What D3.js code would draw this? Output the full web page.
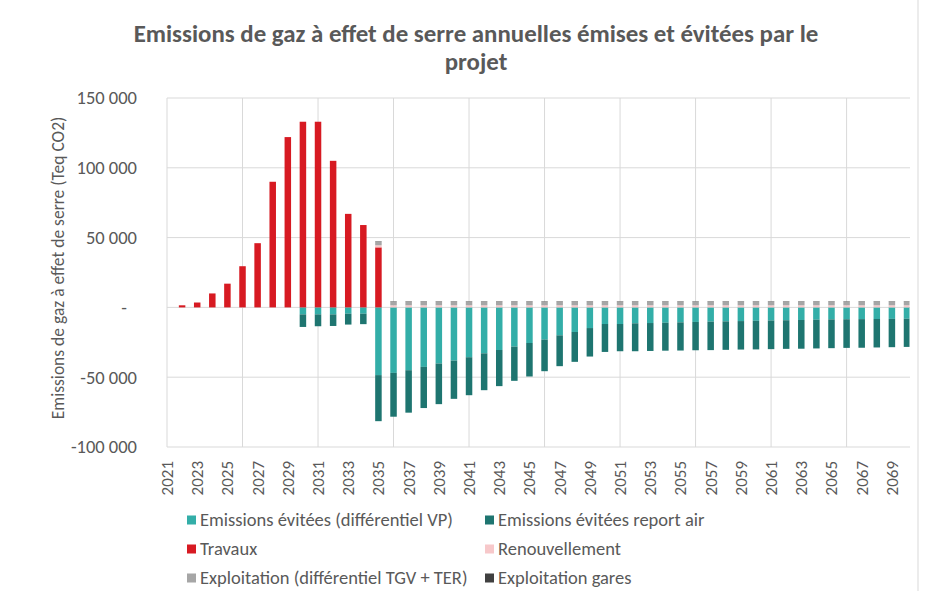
<!DOCTYPE html>
<html>
<head>
<meta charset="utf-8">
<script src="https://cdn.jsdelivr.net/npm/d3@7"></script>
<style>
  body { margin: 0; background: #fff; }
  text { font-family: Carlito, Calibri, Lato, sans-serif; fill: #595959; }
</style>
</head>
<body>
<script>
// Categories (years)
var years = [2021, 2022, 2023, 2024, 2025, 2026, 2027, 2028, 2029, 2030,
  2031, 2032, 2033, 2034, 2035, 2036, 2037, 2038, 2039, 2040,
  2041, 2042, 2043, 2044, 2045, 2046, 2047, 2048, 2049, 2050,
  2051, 2052, 2053, 2054, 2055, 2056, 2057, 2058, 2059, 2060,
  2061, 2062, 2063, 2064, 2065, 2066, 2067, 2068, 2069, 2070];

// Series values (Teq CO2), one per year
var evitVP = [0, 0, 0, 0, 0, 0, 0, 0, 0, -5000,
  -5000, -5000, -4500, -4500, -48500, -46900, -45000, -42600, -40200, -38100,
  -35700, -32900, -30500, -28100, -25500, -23100, -20000, -17600, -14800, -11900,
  -11900, -11400, -11200, -11000, -10700, -10400, -10200, -10000, -9800, -9600,
  -9400, -9200, -9000, -8800, -8600, -8500, -8400, -8300, -8200, -8100];
var evitAir = [0, 0, 0, 0, 0, 0, 0, 0, 0, -9000,
  -8500, -8300, -7800, -7500, -33000, -31400, -30400, -29500, -29100, -27400,
  -27200, -26400, -25900, -24500, -24000, -22600, -22100, -21400, -20400, -20000,
  -19500, -20000, -20000, -20000, -20200, -20300, -20400, -20400, -20400, -20500,
  -20500, -20500, -20600, -20600, -20600, -20500, -20500, -20400, -20300, -20200];
var travaux = [0, 1500, 3500, 10000, 17000, 29500, 46000, 90000, 122000, 133000,
  133000, 105000, 67000, 59000, 43000, 0, 0, 0, 0, 0,
  0, 0, 0, 0, 0, 0, 0, 0, 0, 0,
  0, 0, 0, 0, 0, 0, 0, 0, 0, 0,
  0, 0, 0, 0, 0, 0, 0, 0, 0, 0];
var renouvellement = [0, 0, 0, 0, 0, 0, 0, 0, 0, 0,
  0, 0, 0, 0, 1500, 1500, 1500, 1500, 1500, 1500,
  1500, 1500, 1500, 1500, 1500, 1500, 1500, 1500, 1500, 1500,
  1500, 1500, 1500, 1500, 1500, 1500, 1500, 1500, 1500, 1500,
  1500, 1500, 1500, 1500, 1500, 1500, 1500, 1500, 1500, 1500];
var exploitation = [0, 0, 0, 0, 0, 0, 0, 0, 0, 0,
  0, 0, 0, 0, 2800, 2800, 2800, 2800, 2800, 2800,
  2800, 2800, 2800, 2800, 2800, 2800, 2800, 2800, 2800, 2800,
  2800, 2800, 2800, 2800, 2800, 2800, 2800, 2800, 2800, 2800,
  2800, 2800, 2800, 2800, 2800, 2800, 2800, 2800, 2800, 2800];
var gares = [0, 0, 0, 0, 0, 0, 0, 0, 0, 0,
  0, 0, 0, 0, 200, 200, 200, 200, 200, 200,
  200, 200, 200, 200, 200, 200, 200, 200, 200, 200,
  200, 200, 200, 200, 200, 200, 200, 200, 200, 200,
  200, 200, 200, 200, 200, 200, 200, 200, 200, 200];

// Legend labels and y ticks
var seriesNames = ['Emissions évitées (différentiel VP)', 'Emissions évitées report air', 'Travaux',
  'Renouvellement', 'Exploitation (différentiel TGV + TER)', 'Exploitation gares'];
var seriesColors = ['#33aea8', '#1e7570', '#d71a22', '#f7c8ca', '#a6a6a6', '#404040'];
var yTicks = [-100000, -50000, 0, 50000, 100000, 150000];

var keys = ['vp', 'air', 'trav', 'renouv', 'exploit', 'gares'];
var table = years.map(function (y, i) {
  return { year: y, vp: evitVP[i], air: evitAir[i], trav: travaux[i],
    renouv: renouvellement[i], exploit: exploitation[i], gares: gares[i] };
});

var width = 925, height = 591;
var svg = d3.select('body').append('svg').attr('width', width).attr('height', height);

// Scales
var x = d3.scalePoint().domain(years).range([167, 907]);
var y = d3.scaleLinear().domain([-100000, 150000]).range([447, 98]);
var color = d3.scaleOrdinal().domain(keys).range(seriesColors);

// Outer frame line on the right
svg.append('line').attr('x1', 918).attr('x2', 918).attr('y1', 0).attr('y2', height)
  .attr('stroke', '#d9d9d9');

// Title
var title = svg.append('text').attr('text-anchor', 'middle').attr('font-weight', 'bold')
  .attr('font-size', 20).style('fill', '#595959');
title.append('tspan').attr('x', 476).attr('y', 42)
  .text('Emissions de gaz à effet de serre annuelles émises et évitées par le');
title.append('tspan').attr('x', 476).attr('y', 70).text('projet');
var tw = title.select('tspan').node().getComputedTextLength();
title.attr('font-size', 20 * 685 / tw);

// Gridlines
svg.append('g').selectAll('line').data(yTicks).enter().append('line')
  .attr('x1', 167).attr('x2', 910)
  .attr('y1', function (d) { return y(d); }).attr('y2', function (d) { return y(d); })
  .attr('stroke', '#d9d9d9').attr('stroke-width', 1);
svg.append('g').selectAll('line').data(years.filter(function (d, i) { return i % 5 === 0; }))
  .enter().append('line')
  .attr('x1', function (d) { return x(d); }).attr('x2', function (d) { return x(d); })
  .attr('y1', y(150000)).attr('y2', y(-100000))
  .attr('stroke', '#d9d9d9').attr('stroke-width', 1);

// Stacked bars
var series = d3.stack().keys(keys).offset(d3.stackOffsetDiverging)(table);
svg.append('clipPath').attr('id', 'clip').append('rect')
  .attr('x', 167).attr('y', 90).attr('width', 742.5).attr('height', 370);
var barW = 6.5;
svg.append('g').attr('clip-path', 'url(#clip)')
  .selectAll('g').data(series).enter().append('g')
  .attr('fill', function (d) { return color(d.key); })
  .selectAll('rect').data(function (d) { return d; }).enter().append('rect')
  .attr('x', function (d) { return x(d.data.year) - barW / 2; })
  .attr('width', barW)
  .attr('y', function (d) { return y(Math.max(d[0], d[1])); })
  .attr('height', function (d) { return Math.abs(y(d[0]) - y(d[1])); });

// Y axis
var yAxis = svg.append('g').attr('transform', 'translate(137,0)')
  .call(d3.axisLeft(y).tickValues(yTicks).tickSize(0).tickPadding(0)
    .tickFormat(function (d) {
      return d === 0 ? '-' : d3.format(',')(d).replace(/,/g, ' ').replace('\u2212', '-');
    }));
yAxis.select('.domain').remove();
yAxis.selectAll('text').attr('font-size', 18.5).attr('font-family', null).style('fill', '#595959')
  .attr('dx', function (d) { return d === 0 ? -10 : 0; });

// X axis labels (every other year)
svg.append('g').selectAll('text').data(years.filter(function (d, i) { return i % 2 === 0; }))
  .enter().append('text')
  .attr('transform', function (d) { return 'translate(' + (x(d) + 6) + ',461) rotate(-90)'; })
  .attr('text-anchor', 'end').attr('font-size', 17)
  .text(function (d) { return d; });

// Y axis title
svg.append('text').attr('transform', 'translate(64,268) rotate(-90)')
  .attr('text-anchor', 'middle').attr('font-size', 17.5)
  .text('Emissions de gaz à effet de serre (Teq CO2)');

// Legend
var legendPos = [[187, 520], [485, 520], [187, 549], [485, 549], [187, 578], [485, 578]];
var legend = svg.append('g').selectAll('g').data(seriesNames).enter().append('g')
  .attr('transform', function (d, i) { return 'translate(' + legendPos[i][0] + ',' + legendPos[i][1] + ')'; });
legend.append('rect').attr('x', 0).attr('y', -4.5).attr('width', 9).attr('height', 9)
  .attr('fill', function (d, i) { return seriesColors[i]; });
legend.append('text').attr('x', 13).attr('y', 6).attr('font-size', 18.5)
  .text(function (d) { return d; });
</script>
</body>
</html>
